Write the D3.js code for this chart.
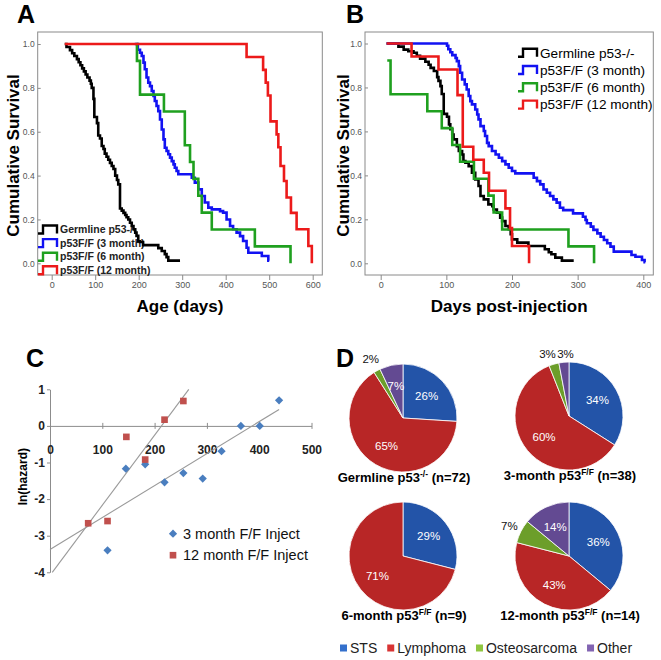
<!DOCTYPE html>
<html>
<head>
<meta charset="utf-8">
<script src="https://cdn.jsdelivr.net/npm/d3@7"></script>
<style>
  body { margin: 0; background: #fff; }
  svg { display: block; font-family: "Liberation Sans", Arial, sans-serif; }
</style>
</head>
<body>
<div id="fig"></div>
<script>
/* global d3 */

// ---- survival data: [day, survival after event] ----
var groupNames = ["Germline p53-/-", "p53F/F (3 month)", "p53F/F (6 month)", "p53F/F (12 month)"];

var ageGermline = [[30,1],[34,0.986],[42,0.972],[47,0.958],[52,0.945],[58,0.931],[62,0.917],[66,0.903],[70,0.889],
    [74,0.875],[78,0.861],[82,0.847],[87,0.833],[90,0.819],[92,0.80],[96,0.75],[98,0.667],[104,0.639],[107,0.583],
    [111,0.569],[115,0.535],[119,0.521],[122,0.5],[126,0.486],[130,0.472],[134,0.458],[138,0.444],[142,0.43],
    [146,0.40],[150,0.38],[153,0.36],[157,0.25],[161,0.24],[165,0.23],[169,0.22],[172,0.21],[176,0.2],[180,0.185],
    [184,0.17],[188,0.155],[192,0.14],[195,0.125],[199,0.1],[203,0.097],[210,0.083],[245,0.069],[253,0.056],
    [260,0.042],[264,0.028],[268,0.012],[295,0.012]];
var age3m = [[191,1],[198,0.974],[203,0.96],[207,0.945],[211,0.915],[214,0.885],[218,0.847],[222,0.824],[226,0.808],
    [230,0.786],[234,0.763],[237,0.74],[241,0.717],[245,0.694],[249,0.656],[253,0.61],[257,0.565],[260,0.527],
    [264,0.512],[268,0.497],[272,0.482],[276,0.466],[280,0.451],[283,0.436],[287,0.421],[291,0.406],[322,0.39],
    [329,0.368],[337,0.337],[345,0.307],[352,0.277],[360,0.254],[368,0.246],[387,0.238],[394,0.231],[402,0.2],
    [410,0.17],[417,0.155],[425,0.14],[433,0.124],[440,0.102],[448,0.071],[452,0.048],[483,0.033],[498,0.012],[500,0.012]];
var age6m = [[195,1],[196,0.923],[203,0.769],[258,0.692],[306,0.538],[318,0.462],[326,0.385],[337,0.308],[345,0.231],
    [368,0.154],[467,0.077],[549,0]];
var age12m = [[30,1],[448,0.941],[486,0.882],[492,0.824],[497,0.765],[503,0.647],[517,0.588],[521,0.529],[526,0.444],
    [534,0.375],[540,0.30],[550,0.23],[563,0.155],[590,0.079],[598,0]];

var injGermline = [[9,1],[27,0.986],[35,0.972],[42,0.965],[50,0.958],[55,0.944],[60,0.931],[68,0.917],[73,0.903],
    [76,0.889],[81,0.875],[86,0.847],[88,0.83],[91,0.806],[93,0.77],[96,0.68],[101,0.667],[104,0.632],[106,0.61],
    [109,0.586],[111,0.564],[116,0.533],[119,0.511],[124,0.495],[126,0.465],[129,0.458],[134,0.442],[139,0.412],
    [144,0.382],[149,0.352],[152,0.306],[157,0.291],[164,0.268],[170,0.26],[172,0.245],[177,0.23],[182,0.208],
    [185,0.192],[190,0.17],[195,0.155],[198,0.132],[200,0.109],[208,0.094],[225,0.079],[250,0.064],[256,0.05],
    [260,0.041],[266,0.026],[276,0.012],[294,0.012]];
var inj3m = [[9,1],[101,0.99],[103,0.974],[106,0.96],[109,0.947],[114,0.934],[116,0.92],[119,0.897],[121,0.867],
    [124,0.836],[128,0.814],[131,0.791],[134,0.761],[136.5,0.738],[139,0.723],[144,0.70],[147,0.677],[149,0.655],
    [152,0.624],[157,0.602],[159,0.579],[162,0.548],[164.5,0.533],[169.5,0.511],[175,0.495],[180,0.48],[185,0.465],
    [190,0.45],[195,0.435],[200,0.42],[205,0.409],[233,0.389],[238,0.374],[243,0.359],[248,0.336],[253,0.321],
    [258,0.306],[263,0.291],[268,0.276],[273,0.253],[278,0.242],[293,0.227],[308,0.212],[312,0.197],[314,0.182],
    [320,0.167],[324,0.152],[330,0.136],[335,0.121],[340,0.106],[345,0.091],[350,0.076],[355,0.053],[382,0.038],
    [388,0.03],[398,0.015],[402,0.005],[403,0.005]];
var inj6m = [[10,0.923],[15,0.769],[71,0.692],[93,0.615],[109,0.538],[121,0.462],[142,0.385],[164,0.308],[172,0.231],
    [185,0.154],[286,0.077],[325,0]];
var inj12m = [[9,1],[47,0.941],[88,0.882],[117,0.765],[125,0.53],[141,0.471],[157,0.412],[165,0.33],[190,0.25],
    [197,0.16],[200,0.079],[226,0]];

var survTicks = [0, 0.2, 0.4, 0.6, 0.8, 1.0];
var ageTicks = [0, 100, 200, 300, 400, 500, 600];
var injTicks = [0, 100, 200, 300, 400];

// ---- hazard data (panel C) ----
var hazardNames = ["3 month F/F Inject", "12 month F/F Inject"];
var hazardDays3m = [110, 145, 182, 219, 255, 292, 328, 365, 401, 438];
var hazardLn3m = [-3.4, -1.17, -1.05, -1.54, -1.29, -1.44, -0.69, 0, 0, 0.7];
var hazardDays12m = [73, 110, 146, 182, 219, 255];
var hazardLn12m = [-2.66, -2.6, -0.3, -0.92, 0.17, 0.68];
var hazardXTicks = [0, 100, 200, 300, 400, 500];
var hazardYTicks = [1, 0, -1, -2, -3, -4];

// ---- tumour spectrum (panel D) ----
var tumorTypes = ["STS", "Lymphoma", "Osteosarcoma", "Other"];
var pieLabels = ["Germline p53", "3-month p53", "6-month p53", "12-month p53"];
var pieSup = ["-/-", "F/F", "F/F", "F/F"];
var pieN = [72, 38, 9, 14];
var piePct = [[26, 65, 2, 7], [34, 60, 3, 3], [29, 71, 0, 0], [36, 43, 7, 14]];

// ---------------------------------------------------------------
var svg = d3.select("#fig").append("svg").attr("width", 661).attr("height", 660);
var lineColors = ["#000000", "#1212f2", "#1fa01f", "#ec1a1a"];

function panelLetter(txt, x, y) {
    svg.append("text").attr("x", x).attr("y", y).text(txt)
        .style("font-size", "25px").style("font-weight", "bold");
}

function kmPanel(opt) {
    var g = svg.append("g");
    var x = d3.scaleLinear().domain([0, opt.xMax]).range(opt.xRange);
    var y = d3.scaleLinear().domain([0, 1]).range(opt.yRange);
    var f = opt.frame;

    g.append("rect").attr("x", f[0]).attr("y", f[1])
        .attr("width", f[2] - f[0]).attr("height", f[3] - f[1])
        .attr("fill", "#fff").attr("stroke", "#8a8a8a").attr("stroke-width", 1);

    var ya = g.append("g").attr("transform", "translate(" + f[0] + ",0)")
        .call(d3.axisLeft(y).tickValues(survTicks).tickFormat(d3.format(".1f"))
            .tickSize(-3).tickPadding(3));
    var xa = g.append("g").attr("transform", "translate(0," + f[3] + ")")
        .call(d3.axisBottom(x).tickValues(opt.ticks).tickSize(5).tickPadding(2));
    [ya, xa].forEach(function (a) {
        a.select(".domain").remove();
        a.selectAll("line").attr("stroke", "#8a8a8a");
        a.selectAll("text").style("font-size", "9px").attr("fill", "#555")
            .style("font-family", "'Liberation Sans', Arial, sans-serif");
    });
    ya.selectAll("text").style("font-size", "8.5px");

    // legend
    var lg = g.append("g");
    groupNames.forEach(function (name, i) {
        var ly = opt.legend.y + i * opt.legend.dy;
        var lx = opt.legend.x;
        lg.append("path")
            .attr("d", "M" + lx + "," + (ly + 4) + "H" + (lx + 5) + "V" + (ly - 4) + "H" + (lx + opt.legend.w) + "V" + (ly + 4))
            .attr("fill", "none").attr("stroke", lineColors[i]).attr("stroke-width", 2.4);
        lg.append("text").attr("x", lx + opt.legend.w + 3).attr("y", ly).attr("dy", "0.36em")
            .text(name).style("font-size", opt.legend.size)
            .style("font-weight", opt.legend.weight).attr("fill", opt.legend.color);
    });

    var line = d3.line()
        .x(function (d) { return x(d[0]); })
        .y(function (d) { return y(d[1]); })
        .curve(d3.curveStepAfter);

    opt.series.forEach(function (s, i) {
        g.append("path").datum(s).attr("d", line)
            .attr("fill", "none").attr("stroke", lineColors[i])
            .attr("stroke-width", 2.6).attr("stroke-linejoin", "miter");
    });

    g.append("text").attr("transform", "translate(" + opt.yTitleX + "," + ((f[1] + f[3]) / 2 + 2) + ") rotate(-90)")
        .attr("text-anchor", "middle").attr("dy", "0.35em").text("Cumulative Survival")
        .style("font-size", "17px").style("font-weight", "bold");
    g.append("text").attr("x", (f[0] + f[2]) / 2).attr("y", 312)
        .attr("text-anchor", "middle").text(opt.xTitle)
        .style("font-size", "17px").style("font-weight", "bold");
}

panelLetter("A", 17, 23);
kmPanel({
    frame: [37.7, 32, 322.3, 275], xMax: 600, xRange: [51.7, 312.7], yRange: [263.3, 44],
    ticks: ageTicks, series: [ageGermline, age3m, age6m, age12m], xTitle: "Age (days)", yTitleX: 13,
    legend: {x: 38, y: 229.5, dy: 13.6, w: 19, size: "10.5px", weight: "bold", color: "#222"}
});

panelLetter("B", 346, 23);
kmPanel({
    frame: [365, 32, 653.3, 275], xMax: 400, xRange: [380.7, 643.3], yRange: [263.3, 43.5],
    ticks: injTicks, series: [injGermline, inj3m, inj6m, inj12m], xTitle: "Days post-injection", yTitleX: 343,
    legend: {x: 518, y: 52.7, dy: 17.3, w: 19, size: "13.6px", weight: "normal", color: "#000"}
});

// ---------------- panel C ----------------
panelLetter("C", 26, 367);
(function () {
    var g = svg.append("g");
    var x = d3.scaleLinear().domain([0, 500]).range([50, 311.5]);
    var y = d3.scaleLinear().domain([-4, 1]).range([572.3, 389.3]);
    var cBlue = "#4a7ebf", cRed = "#c0504d";

    var ya = g.append("g").attr("transform", "translate(" + x(0) + ",0)")
        .call(d3.axisLeft(y).tickValues(hazardYTicks).tickFormat(d3.format("d")).tickSize(3).tickPadding(2).tickSizeOuter(0));
    var xa = g.append("g").attr("transform", "translate(0," + y(0) + ")")
        .call(d3.axisBottom(x).tickValues(hazardXTicks).tickSize(3).tickPadding(17).tickSizeOuter(0));
    [ya, xa].forEach(function (a) {
        a.select(".domain").attr("stroke", "#8c8c8c");
        a.selectAll("line").attr("stroke", "#8c8c8c");
        a.selectAll("text").style("font-size", "12px").style("font-weight", "bold").attr("fill", "#222")
            .style("font-family", "'Liberation Sans', Arial, sans-serif");
    });
    xa.selectAll(".tick line").attr("y1", -3);
    ya.selectAll("text").text(function (d) { return d < 0 ? "-" + Math.abs(d) : d; });

    function fit(xs, ys) {
        var mx = d3.mean(xs), my = d3.mean(ys);
        var sxy = d3.sum(xs, function (v, i) { return (v - mx) * (ys[i] - my); });
        var sxx = d3.sum(xs, function (v) { return (v - mx) * (v - mx); });
        var m = sxy / sxx;
        return {m: m, b: my - m * mx};
    }
    var f3 = fit(hazardDays3m, hazardLn3m);
    var f12 = fit(hazardDays12m, hazardLn12m);
    var trend3 = [0, d3.max(hazardDays3m)];
    var trend12 = [(-4 - f12.b) / f12.m, (1 - f12.b) / f12.m];
    [[trend3, f3], [trend12, f12]].forEach(function (t) {
        g.append("line")
            .attr("x1", x(t[0][0])).attr("y1", y(t[1].m * t[0][0] + t[1].b))
            .attr("x2", x(t[0][1])).attr("y2", y(t[1].m * t[0][1] + t[1].b))
            .attr("stroke", "#9a9a9a").attr("stroke-width", 1.1);
    });

    var diamond = d3.symbol().type(d3.symbolSquare).size(34);
    var square = d3.symbol().type(d3.symbolSquare).size(44);
    g.selectAll(".d3m").data(hazardDays3m).enter().append("path")
        .attr("d", diamond)
        .attr("transform", function (d, i) { return "translate(" + x(d) + "," + y(hazardLn3m[i]) + ") rotate(45)"; })
        .attr("fill", cBlue);
    g.selectAll(".s12m").data(hazardDays12m).enter().append("path")
        .attr("d", square)
        .attr("transform", function (d, i) { return "translate(" + x(d) + "," + y(hazardLn12m[i]) + ")"; })
        .attr("fill", cRed);

    // legend
    hazardNames.forEach(function (name, i) {
        var ly = 533.7 + i * 21.5;
        g.append("path").attr("d", i === 0 ? diamond : square)
            .attr("transform", "translate(173," + ly + ")" + (i === 0 ? " rotate(45)" : ""))
            .attr("fill", i === 0 ? cBlue : cRed);
        g.append("text").attr("x", 183).attr("y", ly).attr("dy", "0.36em").text(name)
            .style("font-size", "14.5px").attr("fill", "#111");
    });

    g.append("text").attr("transform", "translate(22.7,476.7) rotate(-90)")
        .attr("text-anchor", "middle").attr("dy", "0.35em").text("ln(hazard)")
        .style("font-size", "12px").style("font-weight", "bold");
})();

// ---------------- panel D ----------------
panelLetter("D", 336, 367);
(function () {
    var g = svg.append("g");
    var defs = svg.append("defs");
    var shades = [
        ["#5c94ea", "#3470cc", "#2354a8"],
        ["#f2625e", "#dc3636", "#b82626"],
        ["#b6e26e", "#92c842", "#6c9e2a"],
        ["#a98ad8", "#8466b6", "#634a92"]
    ];
    var flat = ["#3470cc", "#d83434", "#8fc640", "#8264b2"];
    var centers = [[403, 418], [569, 416], [403, 556], [569, 556]];
    var r = 54;
    var pie = d3.pie().sort(null).value(function (d) { return d; });
    var arc = d3.arc().innerRadius(0).outerRadius(r);
    var labelArc = d3.arc().innerRadius(r * 0.6).outerRadius(r * 0.6);
    var outArc = d3.arc().innerRadius(r * 1.24).outerRadius(r * 1.24);
    function isOutside(d) { return d.value < 5 || tumorTypes[d.index] === "Osteosarcoma"; }

    piePct.forEach(function (vals, p) {
        var c = centers[p];
        shades.forEach(function (s, k) {
            var gr = defs.append("radialGradient").attr("id", "pg" + p + "_" + k)
                .attr("gradientUnits", "userSpaceOnUse").attr("cx", c[0]).attr("cy", c[1]).attr("r", r);
            gr.append("stop").attr("offset", "0%").attr("stop-color", s[0]);
            gr.append("stop").attr("offset", "70%").attr("stop-color", s[1]);
            gr.append("stop").attr("offset", "100%").attr("stop-color", s[2]);
        });
        var pg = g.append("g").attr("transform", "translate(" + c[0] + "," + c[1] + ")");
        var arcs = pie(vals).filter(function (d) { return d.value > 0; });
        pg.selectAll("path").data(arcs).enter().append("path")
            .attr("d", arc)
            .attr("fill", function (d) { return "url(#pg" + p + "_" + d.index + ")"; })
            .attr("stroke", "#fff").attr("stroke-width", 0.8);

        // label positions, outside labels pushed apart when they collide
        var pos = arcs.map(function (d) { return (isOutside(d) ? outArc : labelArc).centroid(d); });
        var outs = arcs.map(function (d, i) { return i; }).filter(function (i) { return isOutside(arcs[i]); });
        for (var a = 1; a < outs.length; a++) {
            var p0 = pos[outs[a - 1]], p1 = pos[outs[a]];
            var gap = Math.abs(p1[0] - p0[0]);
            if (gap < 18 && Math.abs(p1[1] - p0[1]) < 12) {
                var push = (18 - gap) / 2;
                p0[0] -= push; p1[0] += push;
                var my = (p0[1] + p1[1]) / 2 + 3;
                p0[1] = my; p1[1] = my;
            }
        }
        pg.selectAll("text").data(arcs).enter().append("text")
            .attr("transform", function (d, i) { return "translate(" + pos[i] + ")"; })
            .attr("text-anchor", "middle").attr("dy", "0.35em")
            .attr("fill", function (d) { return isOutside(d) ? "#111" : "#fff"; })
            .style("font-size", "11.5px")
            .text(function (d) { return d.value + "%"; });

        var t = g.append("text").attr("x", c[0] + 1).attr("y", c[1] + 64)
            .attr("text-anchor", "middle").style("font-size", "13px").style("font-weight", "bold");
        t.append("tspan").text(pieLabels[p]);
        t.append("tspan").text(pieSup[p]).attr("dy", -5).style("font-size", "8.5px");
        t.append("tspan").text(" (n=" + pieN[p] + ")").attr("dy", 5);
    });

    // legend
    var lx = 340;
    tumorTypes.forEach(function (name, k) {
        g.append("rect").attr("x", lx).attr("y", 644.5).attr("width", 7).attr("height", 7).attr("fill", flat[k]);
        var tx = g.append("text").attr("x", lx + 10).attr("y", 648).attr("dy", "0.35em").text(name)
            .style("font-size", "14px").attr("fill", "#222");
        lx += 10 + tx.node().getComputedTextLength() + 10;
    });
})();
</script>
</body>
</html>
